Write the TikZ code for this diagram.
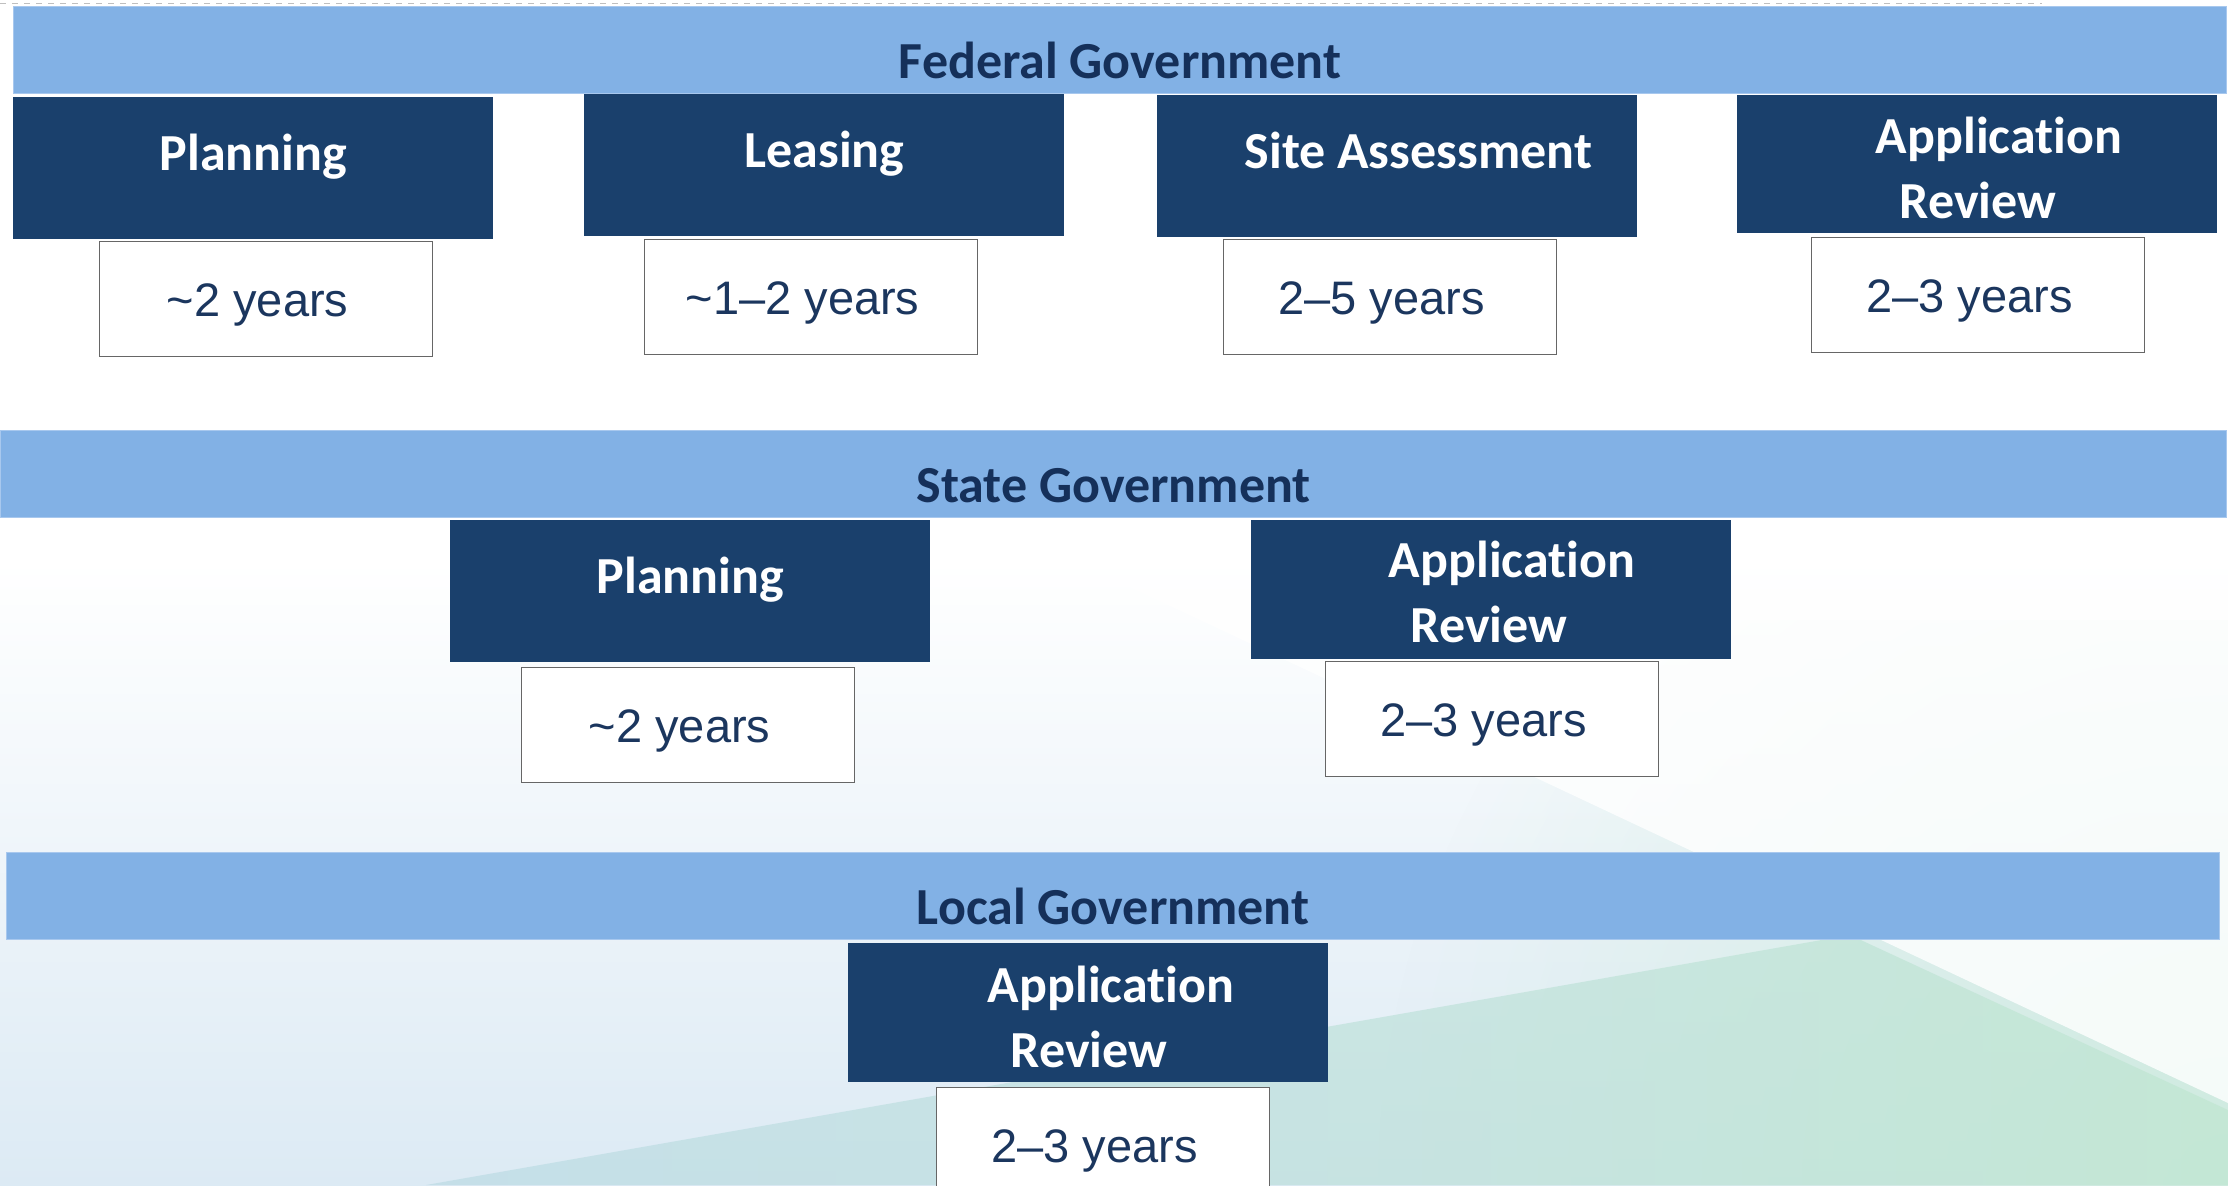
\documentclass[tikz,border=0pt]{standalone}
\usepackage{fontspec}
\newfontfamily\calfont[Ligatures=NoCommon]{Carlito}
\newfontfamily\arfont{Liberation Sans}
\usetikzlibrary{fadings}

\definecolor{barblue}{HTML}{82B1E5}
\definecolor{barline}{HTML}{A8C8EE}
\definecolor{navybox}{HTML}{1A406C}
\definecolor{headtext}{HTML}{15305A}
\definecolor{yrtext}{HTML}{1B365E}
\definecolor{bgblue}{HTML}{DCEAF4}
\definecolor{bgmint}{HTML}{CFEBDF}
\definecolor{bandteal}{HTML}{BCDBE4}
\definecolor{bandgreen}{HTML}{BFE6D1}

\tikzfading[name=cornerfade, inner color=transparent!0, outer color=transparent!100]

\tikzset{
  govbar/.style={fill=barblue, draw=barline, line width=0.6pt, anchor=north west, inner sep=0pt,
    minimum height=43.5pt, font=\calfont\bfseries\fontsize{26}{31}\selectfont, text=headtext,
    text height=28pt, text depth=0pt},
  stagebox/.style={fill=navybox, anchor=north west, inner sep=0pt, minimum width=240pt,
    minimum height=71pt, font=\calfont\bfseries\fontsize{26}{31}\selectfont, text=white,
    text height=16pt, text depth=14pt},
  stagetext/.style={anchor=base, inner sep=0pt, font=\calfont\bfseries\fontsize{26}{31}\selectfont, text=white},
  yearbox/.style={fill=white, draw=black!60, line width=0.6pt, anchor=north west, inner sep=0pt,
    minimum width=166.5pt, minimum height=57.5pt, font=\arfont\fontsize{23.5}{28}\selectfont,
    text=yrtext, text height=17pt, text depth=0pt, execute at end node={\hspace*{8.5pt}}}
}

\begin{document}
\begin{tikzpicture}[x=0.5pt, y=-0.5pt]
  \useasboundingbox (0,0) rectangle (2228,1185);
  \clip (0,0) rectangle (2228,1185);

  % background
  \fill[white] (0,0) rectangle (2228,1185);
  \shade[top color=white, bottom color=bgblue] (0,560) rectangle (2228,1185);
  \begin{scope}
    \clip (0,620) rectangle (2228,1185);
    \fill[bgmint, path fading=cornerfade] (2228,1185) circle (850);
  \end{scope}
  \shade[left color=bandteal, right color=bandgreen, opacity=0.7]
    (426,1185) -- (1850,935) -- (2228,1110) -- (2228,1185) -- cycle;
  \fill[white, opacity=0.8] (1030,540) -- (2228,540) -- (2228,1103) -- cycle;
  \draw[black!25, dashed, line width=0.5pt] (0,3) -- (2042,3);

  \node[govbar, minimum width=1106.5pt] (fedbar)   at (13,6)    {Federal Government};
  \node[govbar, minimum width=1113pt]   (statebar) at (0,430)   {State Government};
  \node[govbar, minimum width=1106.5pt] (localbar) at (6,852)   {Local Government};

  \node[stagebox] (fedplan)  at (13,97)   {Planning};
  \node[stagebox] (fedlease) at (584,94)  {Leasing};
  \node[stagebox] (fedsite)  at (1157,95) {\hspace*{21pt}Site Assessment};
  \node[stagebox, minimum height=69pt] (fedapp) at (1737,95) {};
  \node[stagetext] (fedapptop) at (1999,153) {Application};
  \node[stagetext] (fedappbot) at (1978,218) {Review};

  \node[yearbox] (fedplanyrs)  at (99,241)   {\textasciitilde2 years};
  \node[yearbox] (fedleaseyrs) at (644,239)  {\textasciitilde1\textendash2 years};
  \node[yearbox] (fedsiteyrs)  at (1223,239) {2\textendash5 years};
  \node[yearbox] (fedappyrs)   at (1811,237) {2\textendash3 years};

  \node[stagebox] (stateplan) at (450,520) {Planning};
  \node[stagebox, minimum height=69.5pt] (stateapp) at (1251,520) {};
  \node[stagetext] (stateapptop) at (1512,577) {Application};
  \node[stagetext] (stateappbot) at (1489,642) {Review};

  \node[yearbox] (stateplanyrs) at (521,667)  {\textasciitilde2 years};
  \node[yearbox] (stateappyrs)  at (1325,661) {2\textendash3 years};

  \node[stagebox, minimum height=69.5pt] (localapp) at (848,943) {};
  \node[stagetext] (localapptop) at (1111,1002) {Application};
  \node[stagetext] (localappbot) at (1089,1067) {Review};

  \node[yearbox] (localappyrs) at (936,1087) {2\textendash3 years};
\end{tikzpicture}
\end{document}
